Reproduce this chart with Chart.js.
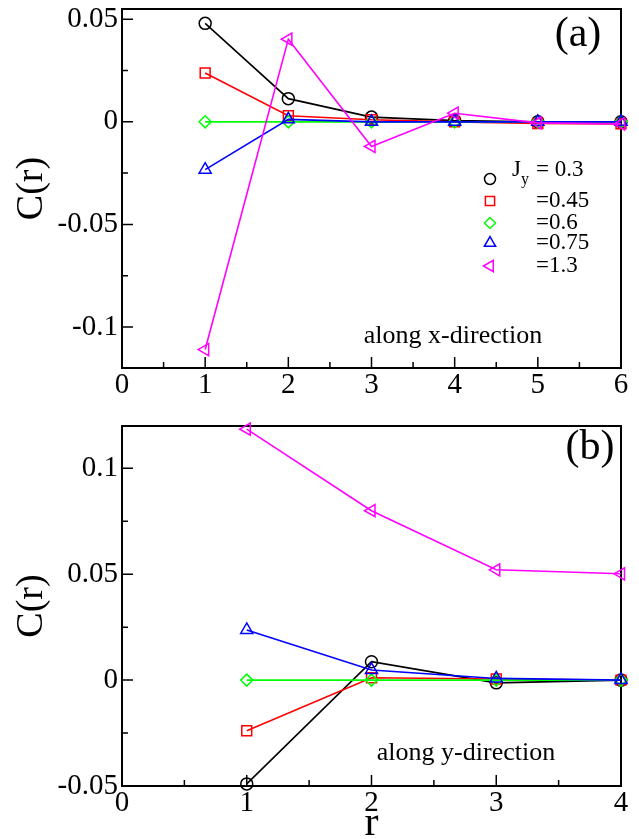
<!DOCTYPE html>
<html>
<head>
<meta charset="utf-8">
<script src="https://cdn.jsdelivr.net/npm/chart.js@4.4.1/dist/chart.umd.min.js"></script>
<style>
  html, body { margin: 0; padding: 0; background: #fff; overflow: hidden; }
  canvas { position: absolute; left: 0; }
  #chartA { top: 0; }
  #chartB { top: 410px; }
</style>
</head>
<body>
<canvas id="chartA" width="639" height="410"></canvas>
<canvas id="chartB" width="639" height="450"></canvas>
<script>
// r values
const rAlongX = [1, 2, 3, 4, 5, 6];
const rAlongY = [1, 2, 3, 4];

// legend labels (J_y)
const jyValues = ['0.3', '0.45', '0.6', '0.75', '1.3'];

// panel (a) : C(r) along x-direction
const cxJ030 = [0.048, 0.0113, 0.0023, 0.0006, 0.0, 0.0];
const cxJ045 = [0.0238, 0.003, 0.001, 0.0, -0.0008, -0.001];
const cxJ060 = [0.0, 0.0, 0.0, 0.0, 0.0, 0.0];
const cxJ075 = [-0.0233, 0.0012, 0.0, 0.0, 0.0, 0.0];
const cxJ130 = [-0.111, 0.0403, -0.012, 0.0042, -0.0005, -0.001];

// panel (b) : C(r) along y-direction
const cyJ030 = [-0.049, 0.0087, -0.0013, 0.0];
const cyJ045 = [-0.0239, 0.0011, 0.0005, 0.0];
const cyJ060 = [0.0, 0.0, 0.0, 0.0];
const cyJ075 = [0.0237, 0.0048, 0.0008, 0.0];
const cyJ130 = [0.1185, 0.080, 0.0521, 0.0502];

// tick values
const xMajorA = [0, 1, 2, 3, 4, 5, 6];
const xMinorA = [0.5, 1.5, 2.5, 3.5, 4.5, 5.5];
const yMajorA = [-0.1, -0.05, 0, 0.05];
const yMinorA = [-0.075, -0.025, 0.025];
const xMajorB = [0, 1, 2, 3, 4];
const xMinorB = [0.5, 1.5, 2.5, 3.5];
const yMajorB = [-0.05, 0, 0.05, 0.1];
const yMinorB = [-0.025, 0.025, 0.075];

// styles
const SERIF = "'Liberation Serif', 'DejaVu Serif', serif";
const colors = ['#000000', '#ff0000', '#00ff00', '#0000ff', '#ff00ff'];
const markers = ['circle', 'rect', 'rectRot', 'triangle', 'triangle'];
const rotations = [0, 0, 0, 0, -90];
const radii = [6, 7, 6, 7, 7];

function makeSets(xs, series) {
    return series.map((ys, i) => ({
        label: 'J_y=' + jyValues[i],
        data: xs.map((x, k) => ({ x: x, y: ys[k] })),
        borderColor: colors[i],
        backgroundColor: 'rgba(0,0,0,0)',
        pointBorderColor: colors[i],
        pointBackgroundColor: 'rgba(0,0,0,0)',
        pointStyle: markers[i],
        pointRotation: rotations[i],
        pointRadius: radii[i],
        pointBorderWidth: 1.5,
        borderWidth: 1.6,
        tension: 0,
        fill: false,
        clip: false,
        order: 5 - i
    }));
}

function fmt(v) {
    return v === 0 ? '0' : String(v);
}

function drawMarker(ctx, style, rotation, radius, x, y) {
    if (Chart.helpers && Chart.helpers.drawPoint) {
        Chart.helpers.drawPoint(ctx, { pointStyle: style, rotation: rotation, radius: radius, borderWidth: 1.5 }, x, y);
    } else {
        ctx.beginPath();
        ctx.arc(x, y, radius, 0, Math.PI * 2);
        ctx.stroke();
    }
}

// frame, inward ticks, panel tag, note and legend
function decorPlugin(cfg) {
    return {
        id: 'decor',
        beforeDatasetsDraw(chart) {
            const ctx = chart.ctx;
            const a = chart.chartArea;
            const xs = chart.scales.x, ys = chart.scales.y;
            ctx.save();
            ctx.strokeStyle = '#000';
            ctx.lineWidth = 1.5;
            ctx.beginPath();
            cfg.xMajor.forEach(v => { const p = xs.getPixelForValue(v); ctx.moveTo(p, a.bottom); ctx.lineTo(p, a.bottom - 11); });
            cfg.xMinor.forEach(v => { const p = xs.getPixelForValue(v); ctx.moveTo(p, a.bottom); ctx.lineTo(p, a.bottom - 6); });
            cfg.yMajor.forEach(v => { const p = ys.getPixelForValue(v); ctx.moveTo(a.left, p); ctx.lineTo(a.left + 11, p); });
            cfg.yMinor.forEach(v => { const p = ys.getPixelForValue(v); ctx.moveTo(a.left, p); ctx.lineTo(a.left + 6, p); });
            ctx.stroke();
            ctx.lineWidth = 2;
            ctx.strokeRect(a.left, a.top, a.right - a.left, a.bottom - a.top);

            ctx.fillStyle = '#000';
            ctx.font = '42px ' + SERIF;
            ctx.textAlign = 'center';
            ctx.textBaseline = 'middle';
            ctx.fillText(cfg.tag, cfg.tagX, cfg.tagY);

            ctx.font = '26px ' + SERIF;
            ctx.textBaseline = 'alphabetic';
            ctx.fillText(cfg.note, cfg.noteX, cfg.noteY);

            if (cfg.legend) {
                const L = cfg.legend;
                ctx.textAlign = 'left';
                jyValues.forEach((v, i) => {
                    ctx.strokeStyle = colors[i];
                    ctx.fillStyle = 'rgba(0,0,0,0)';
                    ctx.lineWidth = 1.5;
                    drawMarker(ctx, markers[i], rotations[i], radii[i] - 0.5, L.x, L.rows[i]);
                    ctx.fillStyle = '#000';
                    if (i === 0) {
                        ctx.font = '23px ' + SERIF;
                        ctx.textBaseline = 'alphabetic';
                        ctx.fillText('J', L.x + 22, L.rows[0] - 3);
                        ctx.font = '16px ' + SERIF;
                        ctx.fillText('y', L.x + 31, L.rows[0] + 5);
                        ctx.font = '23px ' + SERIF;
                        ctx.fillText('= ' + v, L.textX, L.rows[0] - 3);
                    } else {
                        ctx.font = '23px ' + SERIF;
                        ctx.textBaseline = 'middle';
                        ctx.fillText('=' + v, L.textX, L.rows[i]);
                    }
                });
            }
            ctx.restore();
        }
    };
}

function makeOptions(p) {
    return {
        responsive: false,
        animation: false,
        layout: { padding: { left: 0, right: 18, top: p.padTop, bottom: 0 } },
        plugins: { legend: { display: false }, tooltip: { enabled: false } },
        scales: {
            x: {
                type: 'linear',
                min: p.xMin, max: p.xMax,
                grid: { display: false, drawTicks: false },
                border: { display: false },
                afterBuildTicks: s => { s.ticks = p.xMajor.concat(p.xMinor).sort((a, b) => a - b).map(v => ({ value: v })); },
                afterFit: s => { s.height = p.xHeight; s.paddingLeft = 0; s.paddingRight = 0; },
                ticks: {
                    autoSkip: false, maxRotation: 0, padding: 0, color: '#000',
                    font: { family: SERIF, size: 29 },
                    callback: v => p.xMajor.includes(v) ? fmt(v) : ''
                },
                title: p.xTitle ? {
                    display: true, text: p.xTitle, color: '#000',
                    font: { family: SERIF, size: 42 },
                    padding: { top: 0, bottom: 11 }
                } : { display: false }
            },
            y: {
                type: 'linear',
                min: p.yMin, max: p.yMax,
                grid: { display: false, drawTicks: false },
                border: { display: false },
                afterBuildTicks: s => { s.ticks = p.yMajor.concat(p.yMinor).sort((a, b) => a - b).map(v => ({ value: v })); },
                afterFit: s => { s.width = 122; s.paddingTop = 0; s.paddingBottom = 0; },
                ticks: {
                    autoSkip: false, padding: 4, color: '#000',
                    font: { family: SERIF, size: 29 },
                    callback: v => p.yMajor.includes(v) ? fmt(v) : ''
                },
                title: {
                    display: true, text: 'C(r)', color: '#000',
                    font: { family: SERIF, size: 38 },
                    padding: { top: 9, bottom: 0 }
                }
            }
        }
    };
}

new Chart(document.getElementById('chartA'), {
    type: 'line',
    data: { datasets: makeSets(rAlongX, [cxJ030, cxJ045, cxJ060, cxJ075, cxJ130]) },
    options: makeOptions({
        padTop: 9, xHeight: 42, xMin: 0, xMax: 6, yMin: -0.12, yMax: 0.055,
        xMajor: xMajorA, xMinor: xMinorA, yMajor: yMajorA, yMinor: yMinorA
    }),
    plugins: [decorPlugin({
        xMajor: xMajorA, xMinor: xMinorA, yMajor: yMajorA, yMinor: yMinorA,
        tag: '(a)', tagX: 578, tagY: 35,
        note: 'along x-direction', noteX: 453, noteY: 343,
        legend: { x: 490, textX: 536, rows: [179, 201, 223, 243, 266] }
    })]
});

new Chart(document.getElementById('chartB'), {
    type: 'line',
    data: { datasets: makeSets(rAlongY, [cyJ030, cyJ045, cyJ060, cyJ075, cyJ130]) },
    options: makeOptions({
        padTop: 16, xHeight: 74, xMin: 0, xMax: 4, yMin: -0.05, yMax: 0.12,
        xMajor: xMajorB, xMinor: xMinorB, yMajor: yMajorB, yMinor: yMinorB,
        xTitle: 'r'
    }),
    plugins: [decorPlugin({
        xMajor: xMajorB, xMinor: xMinorB, yMajor: yMajorB, yMinor: yMinorB,
        tag: '(b)', tagX: 590, tagY: 38,
        note: 'along y-direction', noteX: 466, noteY: 350
    })]
});
</script>
</body>
</html>
